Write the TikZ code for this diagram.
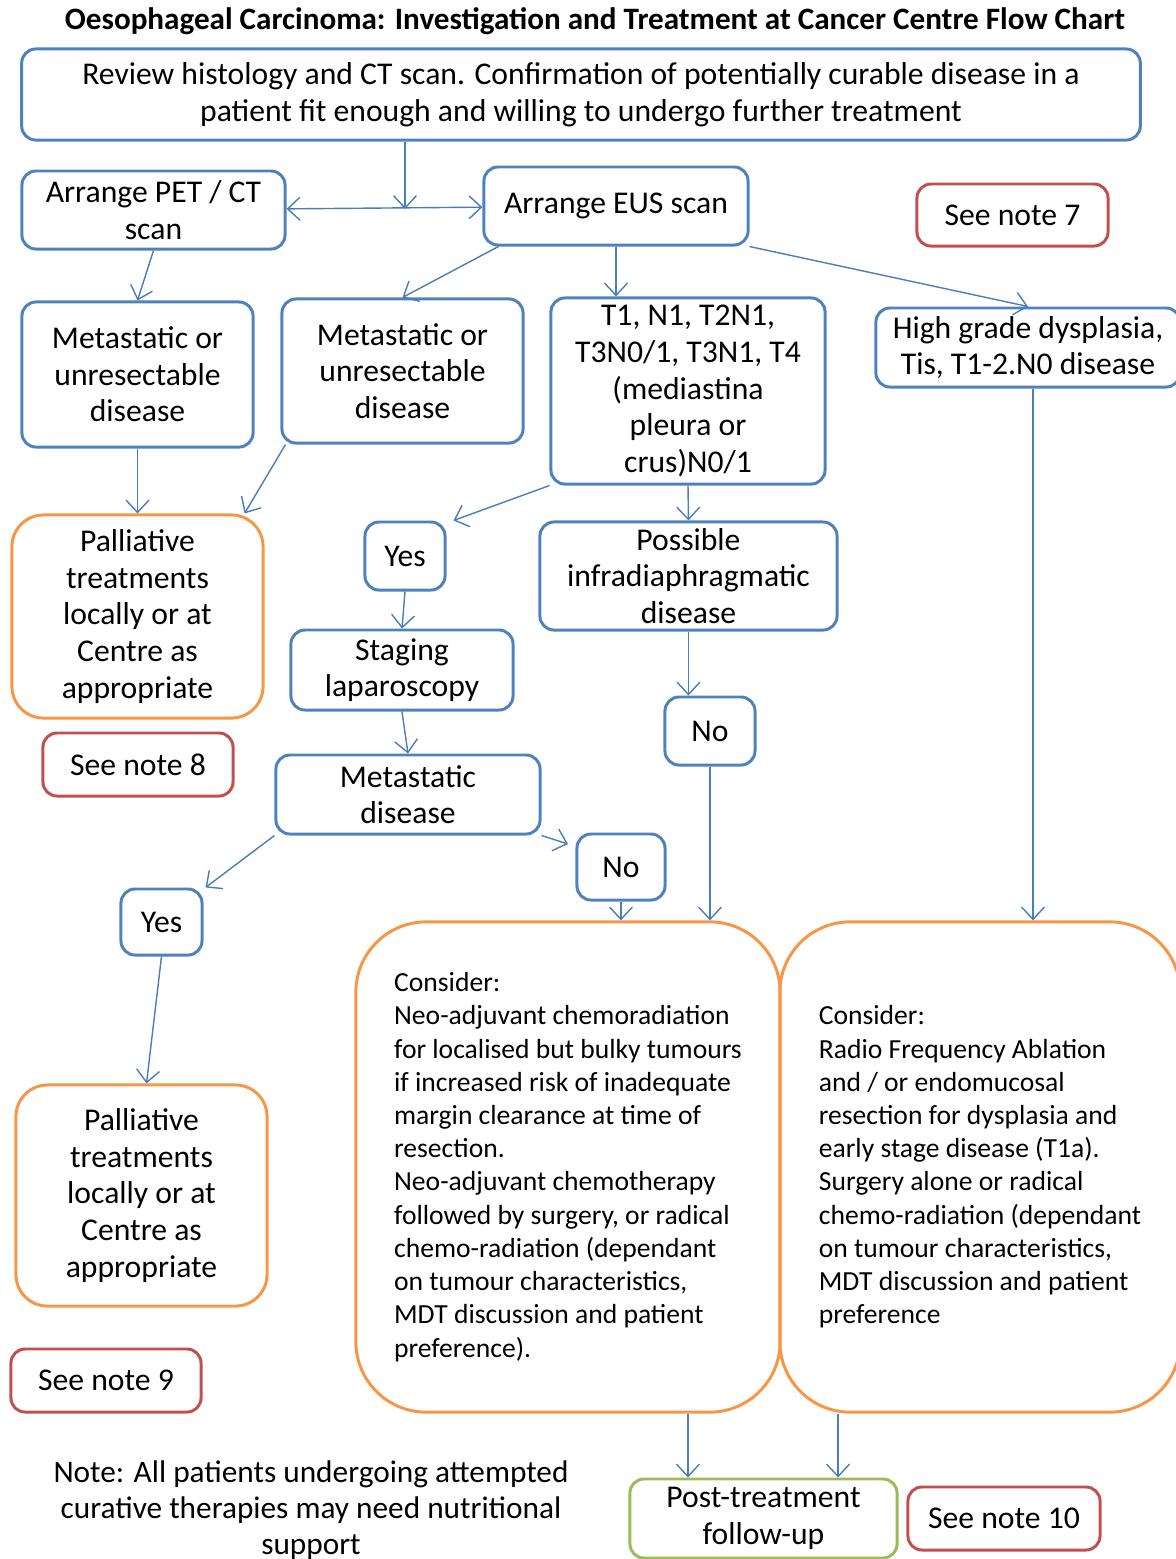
\documentclass[tikz,border=0pt]{standalone}
\usepackage{fontspec}
\setmainfont{Carlito}
\usetikzlibrary{arrows.meta}

\definecolor{boxblue}{HTML}{4F81BD}
\definecolor{boxorange}{HTML}{F79646}
\definecolor{boxred}{HTML}{C0504D}
\definecolor{boxgreen}{HTML}{9BBB59}
\definecolor{linkblue}{HTML}{4A7EBB}

\tikzset{
    flowbox/.style={draw=boxblue, line width=0.85pt, rounded corners=4pt,
        align=center, inner sep=0pt, font=\fontsize{9}{10.4}\selectfont},
    palbox/.style={flowbox, draw=boxorange, rounded corners=9pt},
    notebox/.style={flowbox, draw=boxred},
    bigbox/.style={flowbox, draw=boxorange, rounded corners=20pt,
        align=left, font=\fontsize{7.85}{9.45}\selectfont},
    link/.style={->, draw=linkblue, line width=0.4pt}
}

\begin{document}
\begin{tikzpicture}[x=0.01cm, y=-0.01cm,
    >={Straight Barb[length=3.5pt, width=6.5pt]}]

    \useasboundingbox (0, 0) rectangle (1176, 1559);

    % title
    \node[font=\fontsize{8.85}{10}\selectfont\bfseries] (title) at (595, 21)
        {Oesophageal Carcinoma: Investigation and Treatment at Cancer Centre Flow Chart};

    % first review
    \node[flowbox, minimum width=11.18cm, minimum height=0.91cm] (review) at (581, 94.5)
        {Review histology and CT scan. Confirmation of potentially curable disease in a\\
         patient fit enough and willing to undergo further treatment};
    \coordinate (split) at (405, 209);

    % scans
    \node[flowbox, minimum width=2.63cm, minimum height=0.78cm] (pet) at (153.5, 210)
        {Arrange PET / CT\\scan};
    \node[flowbox, minimum width=2.64cm, minimum height=0.78cm] (eus) at (616, 206)
        {Arrange EUS scan};
    \node[notebox, minimum width=1.91cm, minimum height=0.62cm] (note7) at (1012.5, 215)
        {See note 7};

    % staging results
    \node[flowbox, minimum width=2.31cm, minimum height=1.45cm] (meta1) at (137.5, 374.5)
        {Metastatic or\\unresectable\\disease};
    \node[flowbox, minimum width=2.41cm, minimum height=1.44cm] (meta2) at (402.5, 371)
        {Metastatic or\\unresectable\\disease};
    \node[flowbox, minimum width=2.74cm, minimum height=1.86cm] (tstage) at (688, 391)
        {T1, N1, T2N1,\\T3N0/1, T3N1, T4\\(mediastina\\pleura or\\crus)N0/1};
    \node[flowbox, minimum width=3.04cm, minimum height=0.79cm] (hgd) at (1028, 347.5)
        {High grade dysplasia,\\Tis, T1-2.N0 disease};

    % palliative and laparoscopy
    \node[palbox, minimum width=2.51cm, minimum height=2.03cm] (pall1) at (137.5, 616.5)
        {Palliative\\treatments\\locally or at\\Centre as\\appropriate};
    \node[notebox, minimum width=1.90cm, minimum height=0.63cm] (note8) at (138, 764.5)
        {See note 8};
    \node[flowbox, minimum width=0.80cm, minimum height=0.68cm] (yes1) at (405, 556)
        {Yes};
    \node[flowbox, minimum width=2.97cm, minimum height=1.08cm] (possible) at (688.5, 576)
        {Possible\\infradiaphragmatic\\disease};
    \node[flowbox, minimum width=2.22cm, minimum height=0.80cm] (staging) at (402, 670)
        {Staging\\laparoscopy};
    \node[flowbox, minimum width=0.90cm, minimum height=0.68cm] (no1) at (710, 731)
        {No};
    \node[flowbox, minimum width=2.64cm, minimum height=0.79cm] (metadis) at (408, 794.5)
        {Metastatic\\disease};
    \node[flowbox, minimum width=0.88cm, minimum height=0.66cm] (no2) at (621, 867)
        {No};
    \coordinate (notip) at (568, 844);
    \node[flowbox, minimum width=0.81cm, minimum height=0.66cm] (yes2) at (161.5, 922)
        {Yes};

    % treatments
    \node[bigbox, minimum width=4.24cm, minimum height=4.90cm] (con1) at (568, 1167)
        {Consider:\\
         Neo-adjuvant chemoradiation\\
         for localised but bulky tumours\\
         if increased risk of inadequate\\
         margin clearance at time of\\
         resection.\\
         Neo-adjuvant chemotherapy\\
         followed by surgery, or radical\\
         chemo-radiation (dependant\\
         on tumour characteristics,\\
         MDT discussion and patient\\
         preference).};
    \node[bigbox, minimum width=4.00cm, minimum height=4.90cm] (con2) at (980, 1167)
        {Consider:\\
         Radio Frequency Ablation\\
         and / or endomucosal\\
         resection for dysplasia and\\
         early stage disease (T1a).\\
         Surgery alone or radical\\
         chemo-radiation (dependant\\
         on tumour characteristics,\\
         MDT discussion and patient\\
         preference};
    \node[palbox, minimum width=2.51cm, minimum height=2.21cm] (pall2) at (141.5, 1195.5)
        {Palliative\\treatments\\locally or at\\Centre as\\appropriate};
    \node[notebox, minimum width=1.90cm, minimum height=0.63cm] (note9) at (106, 1380.5)
        {See note 9};

    % follow-up
    \node[flowbox, draw=boxgreen, minimum width=2.67cm, minimum height=0.79cm] (post) at (763.5, 1518.5)
        {Post-treatment\\follow-up};
    \node[notebox, minimum width=1.92cm, minimum height=0.63cm] (note10) at (1004, 1518.5)
        {See note 10};
    \node[align=center, font=\fontsize{8.9}{10.3}\selectfont] (nutri) at (311, 1510)
        {Note: All patients undergoing attempted\\
         curative therapies may need nutritional\\
         support};

    % connectors
    \draw[link] (review.south -| split) -- (split);
    \draw[link, <->] (pet) -- (eus);
    \draw[link] (pet.south) -- (meta1.north);
    \draw[link] ([xshift=0.16cm]eus.south west) -- (meta2.north);
    \draw[link] (eus.south) -- (eus.south |- tstage.north);
    \draw[link] (eus.south east) -- (hgd.north);
    \draw[link] (meta1.south) -- (pall1.north);
    \draw[link] ([xshift=0.05cm]meta2.south west) -- ([xshift=-0.2cm]pall1.north east);
    \draw[link] (tstage.south west) -- ([xshift=0.07cm]yes1.north east);
    \draw[link] (tstage.south) -- (possible.north);
    \draw[link] (yes1.south) -- (staging.north);
    \draw[link] (staging.south) -- (metadis.north);
    \draw[link] (possible.south) -- (possible.south |- no1.north);
    \draw[link] (metadis.south east) -- (notip);
    \draw[link] (metadis.south west) -- ([xshift=0.02cm]yes2.north east);
    \draw[link] (yes2.south) -- ([xshift=0.05cm]pall2.north);
    \draw[link] (no2.south) -- (no2.south |- con1.north);
    \draw[link] (no1.south) -- (no1.south |- con1.north);
    \draw[link] ([xshift=0.05cm]hgd.south) -- ([xshift=0.05cm]hgd.south |- con2.north);
    \draw[link] ([xshift=-0.755cm]post.north |- con1.south) -- ([xshift=-0.755cm]post.north);
    \draw[link] ([xshift=0.745cm]post.north |- con2.south) -- ([xshift=0.745cm]post.north);

\end{tikzpicture}
\end{document}
